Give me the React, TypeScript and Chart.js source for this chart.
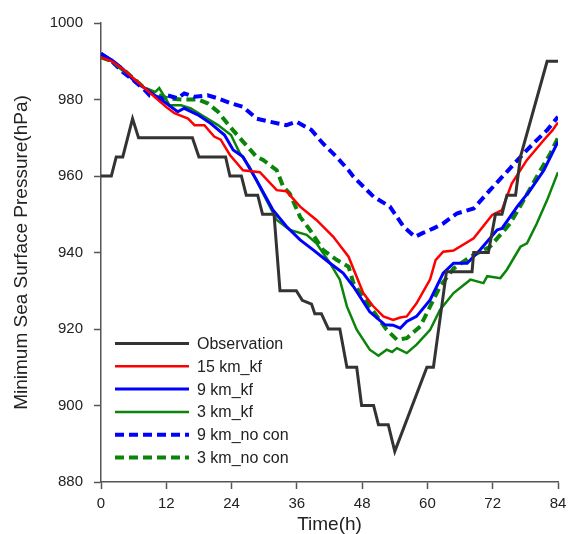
import React, { useEffect, useRef } from "react";
import { Chart, registerables } from "chart.js";

Chart.register(...registerables);

// Time axis ticks (h) and pressure ticks (hPa)
const hourTicks = [0, 12, 24, 36, 48, 60, 72, 84];
const pressureTicks = [880, 900, 920, 940, 960, 980, 1000];

// Observed best-track minimum sea level pressure
const obsHours = [0, 1.9, 2.8, 4, 5.8, 6.9, 16.8, 18, 22.9, 23.7, 25.8, 26.7, 28.8, 29.7, 31.8, 32.9, 35.9, 37, 38.7, 39.3, 40.5, 41.8, 43.9, 45.2, 47, 47.9, 50.1, 51, 52.8, 54, 59.9, 61.1, 63.5, 68.2, 68.5, 71.2, 72.5, 73.7, 74.6, 76.2, 77.1, 82, 84];
const obsValues = [960, 960, 965, 965, 975, 970, 970, 965, 965, 960, 960, 955, 955, 950, 950, 930, 930, 927.5, 926.5, 924, 924, 920, 920, 910, 910, 900, 900, 895, 895, 888, 910, 910, 935, 935, 940, 940, 950, 950, 955, 955, 965, 990, 990];

// 15 km with Kain-Fritsch
const kf15Hours = [0, 2, 4, 6, 8, 10, 12, 13.5, 16, 17.2, 19, 20.8, 22, 23.7, 26.1, 29.2, 32.3, 34.1, 36.6, 39.6, 42.7, 45.5, 48.2, 50, 51.9, 53.7, 55, 56.2, 58, 60.5, 61.5, 62.9, 64.8, 68.5, 71.9, 73.7, 75.5, 78.3, 81.4, 83, 84];
const kf15Values = [991, 990, 988, 985.5, 983, 980.5, 978, 976.4, 975, 973.3, 973.3, 970.3, 969.5, 965.5, 961.5, 961, 956.3, 956, 952, 948.5, 944.1, 938.9, 929.4, 926, 923.3, 922.4, 923, 923.3, 926.7, 933, 938, 940.2, 940.5, 943.7, 949.8, 951.1, 958, 964.2, 969.4, 972, 974];

// 9 km with Kain-Fritsch
const kf9Hours = [0, 2, 4, 6, 8, 10, 11.6, 14.1, 15.3, 17.8, 20.2, 22.7, 24.3, 26.1, 28.6, 31.6, 34.1, 36.6, 39, 42.1, 44.5, 46.4, 49.4, 52.2, 53.7, 55, 56.2, 58, 60.5, 62.9, 64.8, 67.3, 69.7, 72.8, 73.7, 76.5, 78.9, 81.4, 84];
const kf9Values = [992, 990.3, 988, 985, 983, 981, 979.4, 976.8, 977.7, 976, 973.7, 970.7, 966.8, 965, 958.9, 951.1, 946.8, 943.3, 940.7, 937.2, 934.6, 931.1, 924.5, 921.1, 921, 920.2, 922, 923.3, 927.6, 934.6, 937.2, 937.2, 940.7, 945.9, 946.3, 952, 956.3, 961.5, 969];

// 3 km with Kain-Fritsch
const kf3Hours = [0, 2, 4, 6, 8, 10, 10.7, 12.6, 14.7, 16.5, 19, 21.5, 23.9, 25.5, 27.3, 29.8, 32.3, 34.7, 37.8, 39.6, 42.1, 43.9, 45.2, 47, 49.4, 51, 52.5, 53.5, 54.4, 56.2, 58, 60.5, 62.3, 64.8, 67.9, 70.3, 71, 73.4, 74.6, 77.1, 78.3, 80.1, 82, 84];
const kf3Values = [991, 990, 987.5, 985.5, 983, 982, 983, 978.5, 978.5, 977.7, 975.5, 973.3, 970.7, 966, 962.4, 955.4, 948.5, 945.9, 944.6, 942.4, 937.2, 932.9, 925.9, 919.8, 914.6, 913, 914.6, 914, 915, 913.7, 915.9, 919.8, 925, 929.4, 932.9, 932, 933.8, 933.3, 935.5, 941.5, 942.4, 947.6, 953.7, 961];

// 9 km without cumulus parameterization
const nc9Hours = [0, 2, 4, 6, 8, 9, 11.4, 12.2, 14.1, 15.3, 17.2, 19.6, 21.5, 23.9, 26.1, 28.6, 31, 34.1, 35.9, 38.7, 40.8, 43.3, 45.5, 46.4, 50.1, 53.1, 55.6, 57.7, 59, 61.1, 62.9, 65.4, 68.5, 71.5, 74.6, 77.7, 80.1, 82, 84];
const nc9Values = [992, 990, 987.2, 985, 982.5, 981, 980.3, 981.1, 980.3, 981.6, 980.7, 981.1, 980.3, 979, 978.1, 975, 974.2, 973.3, 974.2, 972, 968.5, 965, 961.5, 959.8, 954.6, 952, 946.8, 944.1, 945, 946.3, 947.6, 950.2, 951.5, 956.3, 961.1, 965.9, 969.4, 972, 975.5];

// 3 km without cumulus parameterization
const nc3Hours = [0, 2, 4, 6, 8, 10, 12.2, 15, 17.8, 19.6, 21.5, 23.7, 26.1, 28.6, 29.8, 32.3, 33.5, 34.7, 36.6, 38.4, 40.8, 43.3, 45.5, 46.4, 49.4, 52.5, 54.4, 56.2, 58.7, 60.5, 62.3, 64.8, 67.9, 71.5, 75.2, 77.7, 80.1, 82.6, 84];
const nc3Values = [991, 990, 988, 985.5, 983, 981.5, 980.3, 980, 980, 979, 976.8, 972.9, 969, 965, 964.2, 961.5, 957.2, 955.4, 949.3, 945.9, 940.7, 938.1, 936.3, 932, 925.9, 919.8, 917.2, 917.6, 920.7, 925.9, 931.1, 935.8, 938.9, 941.5, 947.6, 953.7, 959.8, 965.9, 970];

const seriesNames = ["Observation", "15 km_kf", "9 km_kf", "3 km_kf", "9 km_no con", "3 km_no con"];

const FONT = "'Liberation Sans', Arial, sans-serif";
const TEXT = "#222222";
const AXIS = "#555555";

const pairs = (xs: number[], ys: number[]) => xs.map((x, i) => ({ x, y: ys[i] }));

// Legend drawn inside the lower-left part of the plot area
const insideLegend = {
  id: "insideLegend",
  afterDatasetsDraw(chart: any) {
    const { ctx, chartArea } = chart;
    const x0 = chartArea.left + 14;
    const lineLen = 74;
    const textX = x0 + lineLen + 8;
    const y0 = chartArea.top + 320.5;
    const step = 22.8;
    ctx.save();
    ctx.font = `16px ${FONT}`;
    ctx.textBaseline = "middle";
    ctx.textAlign = "left";
    chart.data.datasets.forEach((ds: any, i: number) => {
      const y = y0 + i * step;
      ctx.beginPath();
      ctx.strokeStyle = ds.borderColor;
      ctx.lineWidth = ds.borderWidth;
      ctx.setLineDash(ds.borderDash || []);
      ctx.moveTo(x0, y);
      ctx.lineTo(x0 + lineLen, y);
      ctx.stroke();
      ctx.setLineDash([]);
      ctx.fillStyle = TEXT;
      ctx.fillText(ds.label, textX, y + 1);
    });
    ctx.restore();
  },
};

export default function App() {
  const canvasRef = useRef<HTMLCanvasElement | null>(null);

  useEffect(() => {
    if (!canvasRef.current) return;
    const line = (label: string, data: any[], color: string, width: number, dash?: number[]) => ({
      label,
      data,
      borderColor: color,
      backgroundColor: color,
      borderWidth: width,
      borderDash: dash || [],
      pointRadius: 0,
      tension: 0,
      fill: false,
    });
    const chart = new Chart(canvasRef.current, {
      type: "line",
      data: {
        datasets: [
          line(seriesNames[0], pairs(obsHours, obsValues), "#333333", 3),
          line(seriesNames[1], pairs(kf15Hours, kf15Values), "#ff0000", 2.5),
          line(seriesNames[2], pairs(kf9Hours, kf9Values), "#0000ff", 3),
          line(seriesNames[3], pairs(kf3Hours, kf3Values), "#0a850a", 2.5),
          line(seriesNames[4], pairs(nc9Hours, nc9Values), "#0000ff", 4, [9, 5]),
          line(seriesNames[5], pairs(nc3Hours, nc3Values), "#0a850a", 4, [9, 5]),
        ],
      },
      options: {
        animation: false,
        responsive: true,
        maintainAspectRatio: false,
        layout: { padding: { top: 23, right: 10, left: 0, bottom: 0 } },
        plugins: { legend: { display: false }, tooltip: { enabled: false } },
        scales: {
          x: {
            type: "linear",
            min: hourTicks[0],
            max: hourTicks[hourTicks.length - 1],
            afterBuildTicks: (scale: any) => {
              scale.ticks = hourTicks.map((v) => ({ value: v }));
            },
            afterFit: (scale: any) => {
              scale.height = 52;
              scale.paddingRight = 10;
              scale.paddingLeft = 0;
            },
            ticks: {
              font: { size: 15, family: FONT },
              color: TEXT,
              padding: 6,
              maxRotation: 0,
              callback: (v: any) => String(v),
            },
            grid: { drawOnChartArea: false, drawTicks: true, tickLength: 7, tickColor: AXIS, tickWidth: 1.5 },
            border: { color: AXIS, width: 1.5 },
            title: { display: true, text: "Time(h)", font: { size: 19, family: FONT }, color: TEXT, padding: { top: 0, bottom: -2 } },
          },
          y: {
            type: "linear",
            min: pressureTicks[0],
            max: pressureTicks[pressureTicks.length - 1],
            afterBuildTicks: (scale: any) => {
              scale.ticks = pressureTicks.map((v) => ({ value: v }));
            },
            afterFit: (scale: any) => {
              scale.width = 101;
            },
            ticks: {
              font: { size: 15, family: FONT },
              color: TEXT,
              padding: 11,
              callback: (v: any) => String(v),
            },
            grid: { drawOnChartArea: false, drawTicks: true, tickLength: 7, tickColor: AXIS, tickWidth: 1.5 },
            border: { color: AXIS, width: 1.5 },
            title: { display: true, text: "Minimum Sea Surface Pressure(hPa)", font: { size: 19, family: FONT }, color: TEXT, padding: { top: 10, bottom: 0 } },
          },
        },
      },
      plugins: [insideLegend],
    } as any);
    return () => chart.destroy();
  }, []);

  return (
    <div style={{ position: "fixed", left: 0, top: 0, width: 568, height: 534, background: "#fff" }}>
      <canvas ref={canvasRef} />
    </div>
  );
}
